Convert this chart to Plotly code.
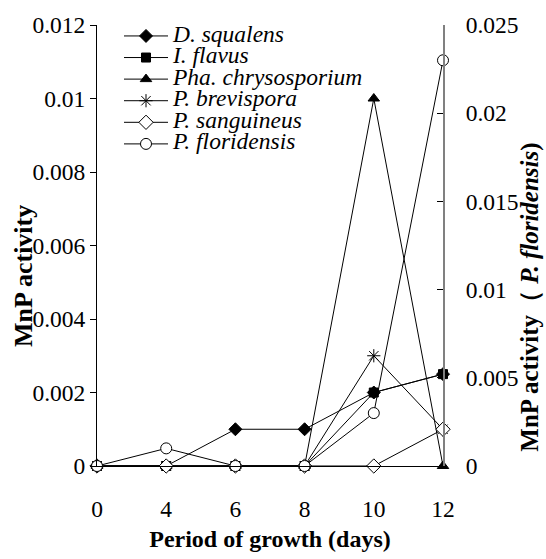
import plotly.graph_objects as go

days = ["0", "4", "6", "8", "10", "12"]
d_squalens = [0, 0, 0.001, 0.001, 0.002, 0.0025]
i_flavus = [0, 0, 0, 0, 0.002, 0.0025]
pha_chryso = [0, 0, 0, 0, 0.01, 0]
p_brevispora = [0, 0, 0, 0, 0.003, 0.001]
p_sanguineus = [0, 0, 0, 0, 0, 0.001]
p_floridensis = [0, 0.001, 0, 0, 0.003, 0.023]  # right axis

xs = list(range(len(days)))
FONT = "Liberation Serif, Times New Roman, serif"
TS = 23.5

fig = go.Figure()
series = [
    ("D. squalens", d_squalens, "diamond", 10, "black", "y"),
    ("I. flavus", i_flavus, "square", 9, "black", "y"),
    ("Pha. chrysosporium", pha_chryso, "triangle-up", 10, "black", "y"),
    ("P. brevispora", p_brevispora, "asterisk-open", 11, "black", "y"),
    ("P. sanguineus", p_sanguineus, "diamond", 11, "white", "y"),
    ("P. floridensis", p_floridensis, "circle", 11, "white", "y2"),
]
for name, vals, sym, sz, col, ax in series:
    fig.add_trace(go.Scatter(
        x=xs, y=vals,
        name=f'<span style="font-size:23.5px"><i>{name}</i></span>',
        yaxis=ax, mode="lines+markers",
        line=dict(color="black", width=1),
        marker=dict(symbol=sym, size=sz, color=col,
                    line=dict(color="black", width=1)),
        cliponaxis=False,
    ))

fig.update_layout(
    width=546, height=559,
    margin=dict(l=97, r=103, t=20, b=91),
    paper_bgcolor="white", plot_bgcolor="white",
    font=dict(family=FONT, size=TS, color="black"),
    showlegend=True,
    legend=dict(x=(119 - 97) / 346, y=1.011, xanchor="left", yanchor="top",
                bgcolor="rgba(0,0,0,0)", font=dict(family=FONT, size=14.3),
                tracegroupgap=0, itemwidth=44),
    xaxis=dict(
        range=[0, 5], tickvals=xs, ticktext=days,
        showline=True, linecolor="black", linewidth=1,
        ticks="", showgrid=False, zeroline=False,
        ticklabelstandoff=22,
        tickfont=dict(family=FONT, size=TS),
        title=dict(text="<b>Period of growth (days)</b>", font=dict(family=FONT, size=24), standoff=8),
    ),
    yaxis=dict(
        range=[0, 0.012], dtick=0.002, tick0=0,
        showline=True, linecolor="black", linewidth=1,
        ticks="outside", ticklen=6, tickcolor="black",
        showgrid=False, zeroline=False,
        tickformat="~g",
        tickfont=dict(family=FONT, size=TS),
    ),
    yaxis2=dict(
        range=[0, 0.025], dtick=0.005, tick0=0,
        overlaying="y", side="right",
        showline=True, linecolor="#808080", linewidth=2,
        ticks="inside", ticklen=6, tickcolor="black",
        showgrid=False, zeroline=False,
        tickformat="~g", ticklabelstandoff=16,
        tickfont=dict(family=FONT, size=TS),
    ),
    annotations=[
        dict(text="<b>MnP activity</b>", xref="paper", yref="paper",
             x=(23 - 97) / 346, y=(468 - 275) / 448, xanchor="center", yanchor="middle",
             textangle=-90, showarrow=False, font=dict(family=FONT, size=26)),
        dict(text="<b>MnP activity（ <i>P. floridensis</i>)</b>", xref="paper", yref="paper",
             x=(530 - 97) / 346, y=(468 - 297) / 448, xanchor="center", yanchor="middle",
             textangle=-90, showarrow=False, font=dict(family=FONT, size=25)),
    ],
)

fig.write_html("out.html")
